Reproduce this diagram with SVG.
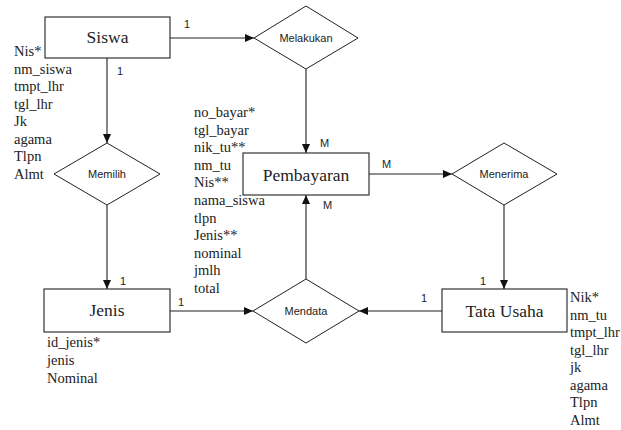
<svg xmlns="http://www.w3.org/2000/svg" width="621" height="430" viewBox="0 0 621 430">
<defs>
<marker id="arr" markerUnits="userSpaceOnUse" markerWidth="10" markerHeight="8" refX="9" refY="4" orient="auto">
<path d="M0,0 L9,4 L0,8 z" fill="#111"/>
</marker>
<style>
.ent{fill:#fff;stroke:#222;stroke-width:1.1}
.rel{fill:#fff;stroke:#222;stroke-width:1}
.en{font-family:"Liberation Serif","Times New Roman",serif;font-size:17.5px;font-weight:normal;text-anchor:middle;fill:#222}
.rl{font-family:"Liberation Sans",Arial,sans-serif;font-size:11px;text-anchor:middle;fill:#222}
.at{font-family:"Liberation Serif","Times New Roman",serif;font-size:14.5px;fill:#222}
.cd{font-family:"Liberation Sans",Arial,sans-serif;font-size:11px;fill:#222}
.ln{fill:none;stroke:#222;stroke-width:1.1;marker-end:url(#arr)}
</style>
</defs>
<rect width="621" height="430" fill="#fff"/>
<g id="connectors">
<line class="ln" x1="170" y1="38" x2="254" y2="38"/>
<line class="ln" x1="306" y1="69" x2="306" y2="153"/>
<line class="ln" x1="107" y1="58" x2="107" y2="143"/>
<line class="ln" x1="107" y1="205" x2="107" y2="289"/>
<line class="ln" x1="369" y1="174" x2="452" y2="174"/>
<line class="ln" x1="504" y1="205" x2="504" y2="289"/>
<line class="ln" x1="170" y1="311" x2="253" y2="311"/>
<line class="ln" x1="442" y1="311" x2="359" y2="311"/>
<line class="ln" x1="306" y1="279" x2="306" y2="195"/>
<text class="cd" x="184" y="28">1</text>
<text class="cd" x="117" y="75">1</text>
<text class="cd" x="320" y="147">M</text>
<text class="cd" x="382" y="168">M</text>
<text class="cd" x="323" y="209">M</text>
<text class="cd" x="120" y="285">1</text>
<text class="cd" x="178" y="306">1</text>
<text class="cd" x="480" y="285">1</text>
<text class="cd" x="421" y="302">1</text>
</g>
<g id="siswa">
<rect class="ent" x="45" y="17" width="125" height="41"/>
<text class="en" x="107.5" y="43">Siswa</text>
<text class="at" x="14" y="56">Nis*</text>
<text class="at" x="14" y="73.5">nm_siswa</text>
<text class="at" x="14" y="91">tmpt_lhr</text>
<text class="at" x="14" y="108.5">tgl_lhr</text>
<text class="at" x="14" y="126">Jk</text>
<text class="at" x="14" y="143.5">agama</text>
<text class="at" x="14" y="161">Tlpn</text>
<text class="at" x="14" y="178.5">Almt</text>
</g>
<g id="melakukan">
<polygon class="rel" points="306,6 358,38 306,69 254,38"/>
<text class="rl" x="306" y="42">Melakukan</text>
</g>
<g id="memilih">
<polygon class="rel" points="107,143 160,174 107,205 54,174"/>
<text class="rl" x="107" y="178">Memilih</text>
</g>
<g id="pembayaran">
<rect class="ent" x="243" y="153" width="126" height="42"/>
<text class="en" x="306" y="180.5">Pembayaran</text>
<text class="at" x="194" y="117">no_bayar*</text>
<text class="at" x="194" y="134.6">tgl_bayar</text>
<text class="at" x="194" y="152.2">nik_tu**</text>
<text class="at" x="194" y="169.8">nm_tu</text>
<text class="at" x="194" y="187.4">Nis**</text>
<text class="at" x="194" y="205">nama_siswa</text>
<text class="at" x="194" y="222.6">tlpn</text>
<text class="at" x="194" y="240.2">Jenis**</text>
<text class="at" x="194" y="257.8">nominal</text>
<text class="at" x="194" y="275.4">jmlh</text>
<text class="at" x="194" y="293">total</text>
</g>
<g id="menerima">
<polygon class="rel" points="504,143 557,174 504,205 452,174"/>
<text class="rl" x="504" y="178">Menerima</text>
</g>
<g id="jenis">
<rect class="ent" x="44" y="289" width="126" height="43"/>
<text class="en" x="107" y="316">Jenis</text>
<text class="at" x="47" y="347">id_jenis*</text>
<text class="at" x="47" y="365">jenis</text>
<text class="at" x="47" y="383">Nominal</text>
</g>
<g id="mendata">
<polygon class="rel" points="306,279 359,311 306,343 253,311"/>
<text class="rl" x="306" y="315">Mendata</text>
</g>
<g id="tatausaha">
<rect class="ent" x="442" y="289" width="125" height="43"/>
<text class="en" x="504.5" y="316.5">Tata Usaha</text>
<text class="at" x="570" y="302">Nik*</text>
<text class="at" x="570" y="319.5">nm_tu</text>
<text class="at" x="570" y="337">tmpt_lhr</text>
<text class="at" x="570" y="354.5">tgl_lhr</text>
<text class="at" x="570" y="372">jk</text>
<text class="at" x="570" y="389.5">agama</text>
<text class="at" x="570" y="407">Tlpn</text>
<text class="at" x="570" y="424.5">Almt</text>
</g>
</svg>
